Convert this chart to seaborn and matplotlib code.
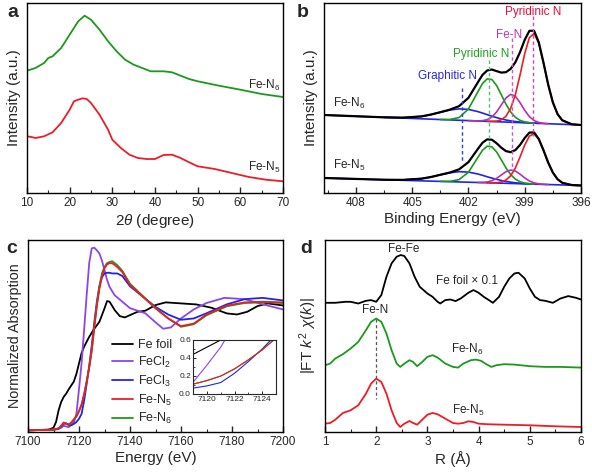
import numpy as np
import matplotlib
matplotlib.use("Agg")
import matplotlib.pyplot as plt
from matplotlib.ticker import MultipleLocator, FormatStrFormatter
import seaborn as sns

# ---------------- data ----------------
# (a) XRD
xrd_2theta_n6 = [10, 12, 14, 15, 16, 18, 20, 22, 23.5, 25, 27, 29, 31, 33, 35, 37, 39, 42, 44, 46, 48, 50, 55, 60, 65, 70]
xrd_n6 = [122.3, 125, 130, 135, 136.7, 145, 158.3, 171.7, 177.3, 173.3, 163.3, 151.7, 141.7, 133.3, 128.3, 125, 121.7,
          121.7, 120.7, 117.3, 114, 111.7, 107.3, 103.3, 99, 96]
xrd_2theta_n5 = [10, 11, 12, 14, 16, 18, 20, 21, 22, 23, 24, 25, 27, 29, 30, 32, 34, 36, 38, 40, 42, 44, 46, 48, 50, 54,
                 58, 62, 66, 70]
xrd_n5 = [56.7, 56, 55, 56.7, 60.7, 70, 83.3, 91.7, 93.3, 94.7, 94, 90, 78.3, 63.3, 53.3, 45, 38.3, 35, 34, 34, 38, 38.3,
          35, 30.7, 26.7, 24, 20, 16, 13.3, 11.7]

# (b) N 1s XPS, fitted components (height above baseline)
be_grid = [409.7, 408, 406.5, 405.5, 404.5, 404, 403.5, 403, 402.5, 402, 401.5, 401.25, 401, 400.75, 400.5, 400.25,
           400, 399.75, 399.5, 399.25, 399, 398.75, 398.5, 398.25, 398, 397.75, 397.5, 397.25, 397, 396.5, 396]
be_base = [409.7, 396]
n6_base = [78, 68]
n5_base = [15, 7.5]
n6_pyridinic = [0, 0, 0, 0, 0, 0, 0, 0, 0, 0, 0, 0, 0, 0.2, 0.6, 2.1, 5.8, 13.8, 27.8, 47.6, 69.2, 85.4, 89.7, 80.1,
                60.7, 39.2, 21.5, 10, 4, 0.4, 0]
n6_fen = [0, 0, 0, 0, 0, 0, 0, 0, 0, 0, 0.1, 0.5, 1.7, 4.5, 9.7, 17, 24.1, 27.9, 26.2, 20, 12.5, 6.3, 2.6, 0.9, 0.2,
          0, 0, 0, 0, 0, 0]
n6_pyrrolic = [0, 0, 0, 0, 0, 0, 0, 0.4, 2.7, 11.6, 29.1, 37.7, 42.5, 42, 36.2, 27.2, 17.9, 10.3, 5.2, 2.3, 0.9, 0.3,
               0, 0, 0, 0, 0, 0, 0, 0, 0]
n6_graphitic = [0, 0, 0, 0.4, 2.4, 4.6, 7.3, 9.8, 11.4, 11.2, 9.4, 8.1, 6.7, 5.3, 4.1, 3, 2.1, 1.4, 0.9, 0.6, 0.4,
                0.2, 0.1, 0, 0, 0, 0, 0, 0, 0, 0]
n5_pyridinic = [0, 0, 0, 0, 0, 0, 0, 0, 0, 0, 0, 0, 0, 0.1, 0.3, 1.2, 3.3, 7.7, 15.6, 26.7, 38.8, 47.9, 50.3, 44.9,
                34.1, 22, 12.1, 5.6, 2.2, 0.2, 0]
n5_fen = [0, 0, 0, 0, 0, 0, 0, 0, 0, 0, 0, 0.2, 0.8, 2.2, 4.7, 8.2, 11.6, 13.4, 12.6, 9.6, 6, 3, 1.3, 0.4, 0.1,
          0, 0, 0, 0, 0, 0]
n5_pyrrolic = [0, 0, 0, 0, 0, 0, 0, 0.3, 2.3, 10, 25, 32.4, 36.6, 36.1, 31.1, 23.4, 15.4, 8.9, 4.5, 2, 0.8, 0.3,
               0, 0, 0, 0, 0, 0, 0, 0, 0]
n5_graphitic = [0, 0, 0, 0.4, 2.2, 4.1, 6.6, 8.8, 10.3, 10.1, 8.5, 7.3, 6, 4.8, 3.7, 2.7, 1.9, 1.3, 0.8, 0.5, 0.3,
                0.2, 0.1, 0, 0, 0, 0, 0, 0, 0, 0]
peak_pos = [402.35, 400.9, 399.7, 398.55]

# (c) Fe K-edge XANES
e_foil = [7100, 7108, 7110, 7111, 7112, 7113, 7114, 7115, 7116, 7118, 7119, 7120, 7121, 7122, 7124, 7126, 7128, 7130,
          7131, 7132, 7134, 7136, 7138, 7140, 7143, 7146, 7150, 7154, 7160, 7166, 7172, 7178, 7182, 7186, 7190, 7194, 7200]
mu_foil = [0, 0.005, 0.02, 0.065, 0.156, 0.22, 0.26, 0.286, 0.32, 0.38, 0.44, 0.52, 0.6, 0.65, 0.727, 0.79, 0.844,
           0.948, 1.005, 1.0, 0.935, 0.888, 0.878, 0.896, 0.922, 0.93, 0.974, 0.995, 0.987, 0.979, 0.953, 0.909, 0.901,
           0.922, 0.966, 0.987, 0.971]
e_fecl2 = [7100, 7110, 7113, 7114, 7116, 7118, 7119, 7120, 7121, 7122, 7123, 7124, 7125, 7126, 7127, 7128, 7129, 7130,
           7131, 7132, 7134, 7137, 7140, 7143, 7146, 7150, 7153, 7156, 7160, 7165, 7170, 7177, 7185, 7192, 7200]
mu_fecl2 = [0, 0.005, 0.02, 0.035, 0.025, 0.06, 0.13, 0.32, 0.52, 0.78, 1.05, 1.3, 1.415, 1.42, 1.4, 1.375, 1.32,
            1.245, 1.17, 1.115, 1.05, 1.0, 0.95, 0.93, 0.91, 0.84, 0.79, 0.8, 0.87, 0.94, 0.99, 1.03, 1.02, 0.98, 0.94]
e_xanes = [7100, 7110, 7112, 7113, 7114, 7115, 7116, 7117, 7118, 7119, 7120, 7121, 7122, 7123, 7124, 7125, 7126, 7127,
           7128, 7129, 7130, 7131, 7132, 7133, 7135, 7137, 7140, 7145, 7150, 7155, 7160, 7165, 7170, 7178, 7185, 7192,
           7200]
mu_fecl3 = [0, 0.005, 0.01, 0.03, 0.05, 0.055, 0.04, 0.04, 0.05, 0.065, 0.09, 0.127, 0.23, 0.36, 0.5, 0.66, 0.84, 1.0,
            1.12, 1.19, 1.22, 1.225, 1.225, 1.22, 1.22, 1.2, 1.12, 1.04, 0.96, 0.9, 0.86, 0.87, 0.91, 0.98, 1.02, 1.03,
            1.01]
mu_fen5 = [0, 0.005, 0.015, 0.035, 0.06, 0.05, 0.045, 0.06, 0.085, 0.11, 0.15, 0.2, 0.28, 0.38, 0.49, 0.62, 0.8, 0.97,
           1.1, 1.2, 1.26, 1.29, 1.3, 1.3, 1.27, 1.23, 1.13, 1.04, 0.95, 0.87, 0.81, 0.83, 0.9, 0.97, 0.995, 1.0, 0.995]
mu_fen6 = [0, 0.005, 0.015, 0.035, 0.06, 0.05, 0.045, 0.06, 0.085, 0.108, 0.148, 0.198, 0.278, 0.378, 0.49, 0.625,
           0.805, 0.98, 1.12, 1.22, 1.27, 1.3, 1.31, 1.315, 1.285, 1.24, 1.14, 1.045, 0.95, 0.87, 0.805, 0.825, 0.895,
           0.965, 0.99, 0.995, 0.99]

# (d) EXAFS FT
r_foil = [1.0, 1.2, 1.4, 1.5, 1.65, 1.8, 1.9, 2.0, 2.1, 2.2, 2.3, 2.4, 2.48, 2.55, 2.65, 2.75, 2.85, 3.0, 3.1, 3.2,
          3.25, 3.35, 3.45, 3.55, 3.65, 3.8, 3.9, 4.0, 4.1, 4.2, 4.28, 4.4, 4.5, 4.6, 4.7, 4.78, 4.9, 5.0, 5.1, 5.2,
          5.3, 5.45, 5.6, 5.75, 5.9, 6.0]
ft_foil = [129, 129, 130, 130, 128.3, 131, 131.7, 130, 136.7, 155, 168.3, 175, 176.7, 175.7, 168.3, 155, 145, 138.3,
           135, 130, 128.3, 131.7, 132.3, 130.7, 133.3, 139, 141.7, 139, 135, 131.7, 129, 135, 145, 153.3, 158.3,
           159, 153.3, 143.3, 135, 131.7, 131, 129, 133.3, 135.7, 134, 132.3]
r_n6 = [1.0, 1.1, 1.2, 1.35, 1.5, 1.65, 1.8, 1.9, 2.0, 2.1, 2.2, 2.3, 2.4, 2.47, 2.55, 2.65, 2.72, 2.8, 2.9, 3.0, 3.1,
        3.2, 3.35, 3.5, 3.6, 3.7, 3.85, 3.95, 4.05, 4.15, 4.25, 4.35, 4.5, 4.7, 5.0, 5.3, 5.6, 6.0]
ft_n6 = [66.7, 68.3, 73.3, 77.7, 83.3, 90, 101.7, 110, 113.3, 110, 98.3, 81.7, 68.3, 65, 68.3, 71.7, 70, 65.7, 70, 75,
         76.7, 74.3, 68.3, 65, 64.3, 68.3, 71.7, 72.3, 71, 67.7, 65, 66.7, 67.7, 67.3, 65.7, 65, 65, 64.3]
r_n5 = [1.0, 1.1, 1.2, 1.35, 1.5, 1.65, 1.8, 1.9, 2.0, 2.1, 2.2, 2.3, 2.4, 2.47, 2.55, 2.65, 2.72, 2.8, 2.9, 3.0, 3.1,
        3.2, 3.35, 3.5, 3.6, 3.7, 3.8, 3.9, 4.0, 4.2, 4.5, 5.0, 5.5, 6.0]
ft_n5 = [8.3, 9, 12.3, 19, 21.7, 26.7, 38.3, 48.3, 53.3, 50, 38.3, 21.7, 9, 5, 8.3, 11, 9, 7.3, 12.3, 17.3, 19, 17.7,
         13.3, 9, 8.3, 9, 10.7, 10, 8.3, 7.7, 7.3, 6.7, 5.7, 5]

RED = "#ee1c25"
GREEN = "#1a9a1a"
BLUE = "#1f24e8"
PURPLE = "#8a45ee"
MAGENTA = "#b530b8"

# ---------------- style ----------------
sns.set_theme(style="ticks")
plt.rcParams["font.family"] = ["Liberation Sans", "DejaVu Sans"]
plt.rcParams["mathtext.fontset"] = "custom"
plt.rcParams["mathtext.rm"] = "Liberation Sans"
plt.rcParams["mathtext.it"] = "Liberation Sans:italic"
plt.rcParams["xtick.direction"] = "in"
plt.rcParams["ytick.direction"] = "in"


def line(ax, x, y, color, lw=1.3, **kw):
    sns.lineplot(x=np.asarray(x), y=np.asarray(y), ax=ax, color=color, linewidth=lw,
                 sort=False, estimator=None, legend=False, **kw)


def style_axis(ax, major, minor):
    for s in ax.spines.values():
        s.set_linewidth(1.0)
        s.set_color("black")
    ax.xaxis.set_major_locator(MultipleLocator(major))
    ax.xaxis.set_minor_locator(MultipleLocator(minor))
    ax.tick_params(axis="x", which="major", length=4, width=1, labelsize=8.5, pad=3, top=False)
    ax.tick_params(axis="x", which="minor", length=2, width=0.8, top=False)
    ax.set_yticks([])
    ax.tick_params(axis="y", which="both", left=False, right=False)
    ax.xaxis.label.set_size(11)
    ax.yaxis.label.set_size(11)


fig = plt.figure(figsize=(5.92, 4.72), dpi=100)
W, H = 592, 472


def box(l, t, r, b):
    return [l / W, 1 - b / H, (r - l) / W, (b - t) / H]


ax_a = fig.add_axes(box(27, 3, 283, 193))
ax_b = fig.add_axes(box(324, 3, 581, 193))
ax_c = fig.add_axes(box(28, 240, 283, 432))
ax_d = fig.add_axes(box(325, 240, 581, 432))

# ---- (a) ----
line(ax_a, xrd_2theta_n6, xrd_n6, GREEN)
line(ax_a, xrd_2theta_n5, xrd_n5, RED)
ax_a.set_xlim(10, 70)
ax_a.set_ylim(0, 190)
style_axis(ax_a, 10, 5)
ax_a.set_xlabel(r"2$\theta$ (degree)", labelpad=2)
ax_a.set_ylabel("Intensity (a.u.)", labelpad=4)
ax_a.text(69.3, 108, r"Fe-N$_6$", ha="right", va="center", fontsize=8.5)
ax_a.text(69.3, 26, r"Fe-N$_5$", ha="right", va="center", fontsize=8.5)

# ---- (b) ----
E = np.asarray(be_grid)
for base_pts, comps in [(n6_base, [n6_graphitic, n6_pyrrolic, n6_fen, n6_pyridinic]),
                        (n5_base, [n5_graphitic, n5_pyrrolic, n5_fen, n5_pyridinic])]:
    base = np.interp(E, be_base[::-1], base_pts[::-1])
    line(ax_b, be_base, base_pts, BLUE, lw=1.2)
    for comp, col in zip(comps, [BLUE, GREEN, MAGENTA, RED]):
        c = np.asarray(comp, dtype=float)
        nz = np.nonzero(c)[0]
        sl = slice(max(nz[0] - 1, 0), nz[-1] + 2)
        line(ax_b, E[sl], base[sl] + c[sl], col, lw=1.2)
    env = base + np.sum(np.asarray(comps, dtype=float), axis=0)
    line(ax_b, E, env, "black", lw=1.6)

dash_specs = [(peak_pos[0], 105, 32, "#3040e0"), (peak_pos[1], 133, 44, "#60b880"),
              (peak_pos[2], 155, 22, "#d050d0"), (peak_pos[3], 177, 57, "#e040b0")]
for xp, y0, y1, col in dash_specs:
    ax_b.plot([xp, xp], [y0, y1], ls=(0, (2.5, 2)), color=col, lw=1.0)
ax_b.text(398.55, 181, "Pyridinic N", color="#e4103a", ha="center", va="center", fontsize=8.5)
ax_b.text(399.85, 158, "Fe-N", color="#c030c0", ha="center", va="center", fontsize=8.5)
ax_b.text(401.3, 139, "Pyridinic N", color="#22a022", ha="center", va="center", fontsize=8.5)
ax_b.text(403.1, 117, "Graphitic N", color="#2a2ae0", ha="center", va="center", fontsize=8.5)
ax_b.text(409.2, 90, r"Fe-N$_6$", ha="left", va="center", fontsize=8.5)
ax_b.text(409.2, 28, r"Fe-N$_5$", ha="left", va="center", fontsize=8.5)
ax_b.set_xlim(409.7, 396)
ax_b.set_ylim(0, 190)
style_axis(ax_b, 3, 1.5)
ax_b.set_xlabel("Binding Energy (eV)", labelpad=2)
ax_b.set_ylabel("Intensity (a.u.)", labelpad=4)

# ---- (c) ----
series_c = [(e_foil, mu_foil, "black", "Fe foil"),
            (e_fecl2, mu_fecl2, PURPLE, r"FeCl$_2$"),
            (e_xanes, mu_fecl3, BLUE, r"FeCl$_3$"),
            (e_xanes, mu_fen6, GREEN, r"Fe-N$_6$"),
            (e_xanes, mu_fen5, RED, r"Fe-N$_5$")]
for x, y, col, lab in series_c:
    line(ax_c, x, y, col, lw=1.3, label=lab)
ax_c.set_xlim(7100, 7200)
ax_c.set_ylim(-0.013, 1.48)
style_axis(ax_c, 20, 10)
ax_c.set_xlabel("Energy (eV)", labelpad=2)
ax_c.set_ylabel("Normalized Absorption", labelpad=4, fontsize=10.3)
h, l = ax_c.get_legend_handles_labels()
order = [0, 1, 2, 4, 3]
ax_c.legend([h[i] for i in order], [l[i] for i in order], loc="upper left",
            bbox_to_anchor=(0.31, 0.51), frameon=False, fontsize=9, handlelength=1.7,
            handletextpad=0.4, labelspacing=0.3, borderaxespad=0)

ins = fig.add_axes(box(193, 340, 276, 394))
for x, y, col, lab in series_c:
    line(ins, x, y, col, lw=0.8)
ins.set_xlim(7119, 7125)
ins.set_ylim(0, 0.6)
for s in ins.spines.values():
    s.set_linewidth(0.8)
ins.xaxis.set_major_locator(MultipleLocator(2))
ins.xaxis.set_minor_locator(MultipleLocator(1))
ins.yaxis.set_major_locator(MultipleLocator(0.2))
ins.yaxis.set_minor_locator(MultipleLocator(0.1))
ins.tick_params(which="major", length=2.5, width=0.7, labelsize=6, pad=1.5)
ins.tick_params(which="minor", length=1.5, width=0.6)
ins.yaxis.set_major_formatter(FormatStrFormatter("%.1f"))
ins.set_xlabel("")
ins.set_ylabel("")

# ---- (d) ----
line(ax_d, r_foil, ft_foil, "black")
line(ax_d, r_n6, ft_n6, GREEN)
line(ax_d, r_n5, ft_n5, RED)
ax_d.plot([2.0, 2.0], [113, 33], ls=(0, (2.5, 2)), color="#555555", lw=0.9)
ax_d.text(2.53, 183, "Fe-Fe", ha="center", va="center", fontsize=8.5)
ax_d.text(3.77, 151, "Fe foil \u00d7 0.1", ha="center", va="center", fontsize=8.5)
ax_d.text(1.98, 122, "Fe-N", ha="center", va="center", fontsize=8.5)
ax_d.text(3.77, 82, r"Fe-N$_6$", ha="center", va="center", fontsize=8.5)
ax_d.text(3.8, 22, r"Fe-N$_5$", ha="center", va="center", fontsize=8.5)
ax_d.set_xlim(1, 6)
ax_d.set_ylim(0, 191.7)
style_axis(ax_d, 1, 0.5)
ax_d.set_xlabel("R (\u00c5)", labelpad=2)
ax_d.set_ylabel(r"|FT $k^2$ $\chi$($k$)|", labelpad=4)

for txt, x, y in [("a", 7, 4), ("b", 297, 4), ("c", 6, 240), ("d", 300, 240)]:
    fig.text(x / W, 1 - y / H, txt, fontsize=14, fontweight="bold", va="top", ha="left")

fig.savefig("out.png", dpi=100)
